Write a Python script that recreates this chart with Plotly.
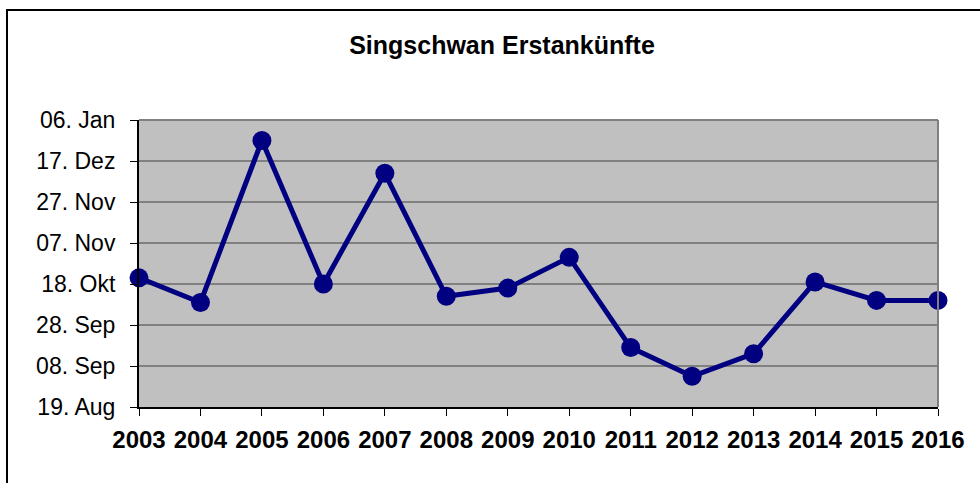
import plotly.graph_objects as go

years = [2003, 2004, 2005, 2006, 2007, 2008, 2009, 2010, 2011, 2012, 2013, 2014, 2015, 2016]
# first arrival dates, mapped onto a reference season (Aug 2000 - Jan 2001)
arrival = ["2000-10-21", "2000-10-09", "2000-12-27", "2000-10-18", "2000-12-11",
           "2000-10-12", "2000-10-16", "2000-10-31", "2000-09-17", "2000-09-03",
           "2000-09-14", "2000-10-19", "2000-10-10", "2000-10-10"]
y_tickvals = ["2000-08-19", "2000-09-08", "2000-09-28", "2000-10-18",
              "2000-11-07", "2000-11-27", "2000-12-17", "2001-01-06"]
y_ticktext = ["19. Aug", "08. Sep", "28. Sep", "18. Okt",
              "07. Nov", "27. Nov", "17. Dez", "06. Jan"]
x_ticktext = [str(y) for y in years]

W, H = 980, 483
ml, mr, mt, mb = 139, 42, 120, 76
pw = W - ml - mr
ph = H - mt - mb

fig = go.Figure()
fig.add_trace(go.Scatter(
    x=years, y=arrival, mode="lines+markers",
    line=dict(color="#000080", width=5),
    marker=dict(color="#000080", size=19),
    cliponaxis=False, showlegend=False,
))

font = "Liberation Sans, Arial, sans-serif"
fig.update_layout(
    width=W, height=H,
    margin=dict(l=ml, r=mr, t=mt, b=mb, autoexpand=False),
    paper_bgcolor="white", plot_bgcolor="#C0C0C0",
    title=dict(text="<b>Singschwan Erstankünfte</b>", x=502 / W, xanchor="center",
               y=1 - 54 / H, yanchor="bottom",
               font=dict(family=font, size=25, color="black")),
    xaxis=dict(range=[years[0], years[-1]], tickvals=years, ticktext=x_ticktext,
               showgrid=False, zeroline=False, showline=True, linecolor="black", linewidth=2,
               ticks="outside", ticklen=7, tickcolor="black", tickwidth=1,
               automargin=False, ticklabelstandoff=3,
               tickfont=dict(family=font, size=24, color="black", weight="bold")),
    yaxis=dict(type="date", range=[y_tickvals[0], y_tickvals[-1]],
               tickvals=y_tickvals, ticktext=y_ticktext,
               showgrid=True, gridcolor="#808080", gridwidth=1.5,
               zeroline=False, showline=True, linecolor="black", linewidth=2,
               ticks="outside", ticklen=7, tickcolor="black", tickwidth=1,
               automargin=False, ticklabelstandoff=10,
               tickfont=dict(family=font, size=23, color="black")),
    shapes=[
        # gray top/right border of plot area
        dict(type="line", xref="paper", yref="paper", x0=0, x1=1, y0=1, y1=1,
             line=dict(color="#808080", width=2)),
        dict(type="line", xref="paper", yref="paper", x0=1, x1=1, y0=0, y1=1,
             line=dict(color="#808080", width=2)),
        # outer chart frame
        dict(type="rect", xref="paper", yref="paper",
             x0=(7 - ml) / pw, x1=(W + 10 - ml) / pw,
             y0=(H - mb - (H + 10)) / ph, y1=(H - mb - 10) / ph,
             line=dict(color="black", width=2), fillcolor="rgba(0,0,0,0)", layer="below"),
    ],
)

fig.write_html(
    "out.html",
    config={"displayModeBar": False},
    post_script="document.body.style.margin='0';document.body.style.overflow='hidden';",
)
